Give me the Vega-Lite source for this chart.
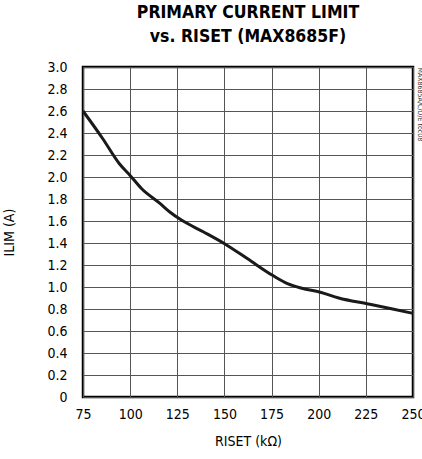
{
  "$schema": "https://vega.github.io/schema/vega-lite/v6.json",
  "autosize": "none",
  "width": 330,
  "height": 330,
  "padding": {"left": 83, "top": 67, "right": 9, "bottom": 62},
  "background": "white",
  "title": {
    "text": ["PRIMARY CURRENT LIMIT", "vs. RISET (MAX8685F)"],
    "font": "DejaVu Sans Condensed",
    "fontWeight": "bold",
    "fontSize": 17.5,
    "lineHeight": 24,
    "color": "#000",
    "anchor": "middle",
    "offset": 15
  },
  "config": {
    "view": {"stroke": "#000", "strokeWidth": 2.5},
    "axis": {
      "labelFont": "DejaVu Sans Condensed",
      "titleFont": "DejaVu Sans Condensed",
      "labelFontSize": 14,
      "titleFontSize": 14,
      "titleFontWeight": "normal",
      "labelColor": "#000",
      "titleColor": "#000",
      "ticks": false,
      "domain": false,
      "gridColor": "#555",
      "gridOpacity": 1,
      "gridWidth": 1
    }
  },
  "data": {
    "values": [
      {"r": 75, "i": 2.6},
      {"r": 85.4, "i": 2.35},
      {"r": 94.3, "i": 2.12},
      {"r": 100.2, "i": 2.01},
      {"r": 106, "i": 1.895},
      {"r": 115.8, "i": 1.76},
      {"r": 121.2, "i": 1.68},
      {"r": 127.4, "i": 1.606},
      {"r": 139, "i": 1.5},
      {"r": 150.7, "i": 1.387},
      {"r": 162.3, "i": 1.256},
      {"r": 175.7, "i": 1.104},
      {"r": 183.8, "i": 1.028},
      {"r": 191, "i": 0.989},
      {"r": 200.8, "i": 0.952},
      {"r": 210.6, "i": 0.9},
      {"r": 226.2, "i": 0.846},
      {"r": 239.2, "i": 0.8},
      {"r": 250, "i": 0.76}
    ]
  },
  "layer": [
    {
      "mark": {"type": "line", "color": "#1a1a1a", "strokeWidth": 3, "interpolate": "monotone"},
      "encoding": {
        "x": {
          "field": "r",
          "type": "quantitative",
          "scale": {"domain": [75, 250], "nice": false, "zero": false},
          "axis": {
            "values": [75, 100, 125, 150, 175, 200, 225, 250],
            "title": "RISET (kΩ)",
            "labelPadding": 10,
            "titlePadding": 13,
            "labelFlush": false
          }
        },
        "y": {
          "field": "i",
          "type": "quantitative",
          "scale": {"domain": [0, 3], "nice": false},
          "axis": {
            "values": [0, 0.2, 0.4, 0.6, 0.8, 1.0, 1.2, 1.4, 1.6, 1.8, 2.0, 2.2, 2.4, 2.6, 2.8, 3.0],
            "labelExpr": "datum.value == 0 ? '0' : format(datum.value, '.1f')",
            "title": "ILIM (A)",
            "labelPadding": 16,
            "titlePadding": 30,
            "labelFlush": false
          }
        }
      }
    },
    {
      "mark": {"type": "text", "opacity": 0},
      "encoding": {
        "y": {
          "field": "i",
          "type": "quantitative",
          "scale": {"domain": [0, 3], "nice": false},
          "axis": {
            "orient": "right",
            "grid": false,
            "labels": false,
            "title": "MAX8685A/C/D/E toc08",
            "titleFontSize": 7,
            "titleColor": "#333",
            "titleAnchor": "end",
            "titleAlign": "left",
            "titleAngle": 90,
            "titlePadding": 3
          }
        }
      }
    }
  ],
  "resolve": {"scale": {"y": "independent"}}
}
